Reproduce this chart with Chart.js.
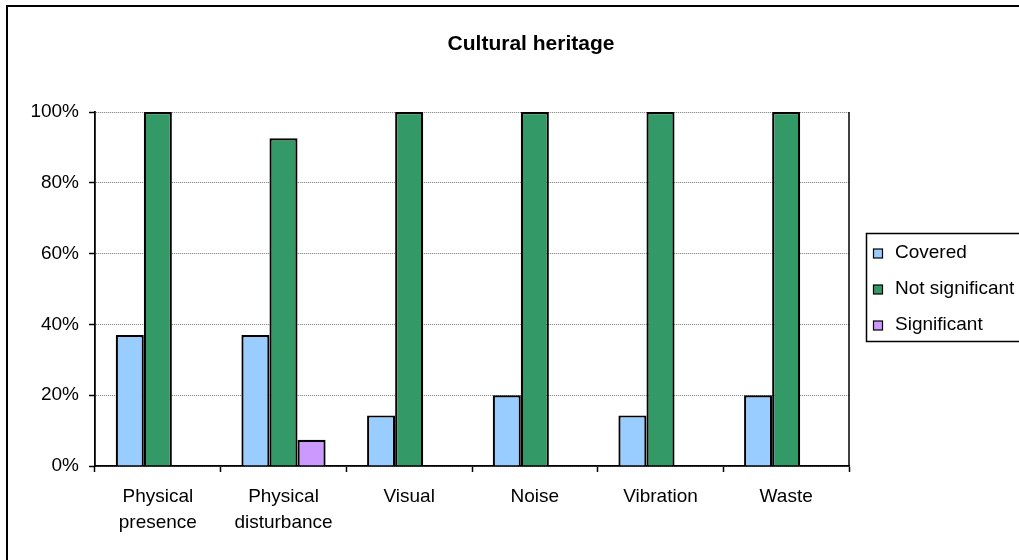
<!DOCTYPE html>
<html>
<head>
<meta charset="utf-8">
<script src="https://cdn.jsdelivr.net/npm/chart.js@4.4.1/dist/chart.umd.min.js"></script>
<style>
  html,body{margin:0;padding:0;background:#fff;}
  #wrap{width:1019px;height:560px;position:relative;}
</style>
</head>
<body>
<div id="wrap"><canvas id="chart"></canvas></div>
<script>
const categories=[['Physical','presence'],['Physical','disturbance'],'Visual','Noise','Vibration','Waste'];
const covered=[37,37,14.3,20,14.3,20];
const notSignificant=[100,92.6,100,100,100,100];
const significant=[0,7.4,0,0,0,0];
const seriesNames=['Covered','Not significant','Significant'];
const yTicks=[0,20,40,60,80,100];

const font='"Liberation Sans", Arial, sans-serif';
const colors=['#99ccff','#339966','#cc99ff'];

// frame, title, right border of plot, legend
const excelDecor={
  id:'excelDecor',
  beforeDraw(chart){
    const ctx=chart.ctx;
    ctx.save();
    ctx.fillStyle='#fff';
    ctx.fillRect(0,0,chart.width,chart.height);
    ctx.strokeStyle='#000';
    ctx.lineWidth=2;
    ctx.strokeRect(7,6,1100,600);
    ctx.restore();
  },
  afterDraw(chart){
    const ctx=chart.ctx, a=chart.chartArea;
    ctx.save();
    ctx.fillStyle='#000';
    ctx.font='bold 21px '+font;
    ctx.textAlign='center';
    ctx.textBaseline='middle';
    ctx.fillText('Cultural heritage',531,44);

    ctx.strokeStyle='#000';
    ctx.lineWidth=1.5;
    ctx.beginPath();
    ctx.moveTo(a.right,a.top);
    ctx.lineTo(a.right,a.bottom);
    ctx.stroke();

    ctx.strokeRect(866.5,233.5,200,108);
    ctx.font='19px '+font;
    ctx.textAlign='left';
    chart.data.datasets.forEach((ds,i)=>{
      const y=253+i*36;
      ctx.fillStyle=ds.backgroundColor;
      ctx.fillRect(873,y-4,9,9);
      ctx.lineWidth=1.2;
      ctx.strokeRect(873.5,y-4,9,9);
      ctx.fillStyle='#000';
      ctx.fillText(ds.label,895,y);
    });
    ctx.restore();
  }
};

new Chart(document.getElementById('chart'),{
  type:'bar',
  data:{
    labels:categories,
    datasets:[
      {label:seriesNames[0],data:covered,backgroundColor:colors[0]},
      {label:seriesNames[1],data:notSignificant,backgroundColor:colors[1]},
      {label:seriesNames[2],data:significant,backgroundColor:colors[2]}
    ]
  },
  options:{
    responsive:true,
    maintainAspectRatio:false,
    animation:false,
    layout:{padding:{left:0,top:112,right:170,bottom:0}},
    datasets:{bar:{categoryPercentage:0.67,barPercentage:1,borderColor:'#000',borderWidth:2.2}},
    plugins:{legend:{display:false},tooltip:{enabled:false}},
    scales:{
      y:{
        min:0,max:100,
        afterFit(s){s.width=95;},
        afterBuildTicks(s){s.ticks=yTicks.map(v=>({value:v}));},
        border:{display:true,color:'#000',width:1.8,dash:[1,1]},
        grid:{color:'#777',lineWidth:1,tickLength:6,tickColor:'#000',tickWidth:1.5,tickBorderDash:[]},
        ticks:{color:'#000',font:{family:font,size:19},padding:10,callback:v=>v+'%'}
      },
      x:{
        afterFit(s){s.height=94;},
        border:{display:true,color:'#000',width:1.8},
        grid:{drawOnChartArea:false,tickLength:6,tickColor:'#000',tickWidth:1.5},
        ticks:{color:'#000',font:{family:font,size:19,lineHeight:1.37},padding:12,maxRotation:0,autoSkip:false}
      }
    }
  },
  plugins:[excelDecor]
});
</script>
</body>
</html>
